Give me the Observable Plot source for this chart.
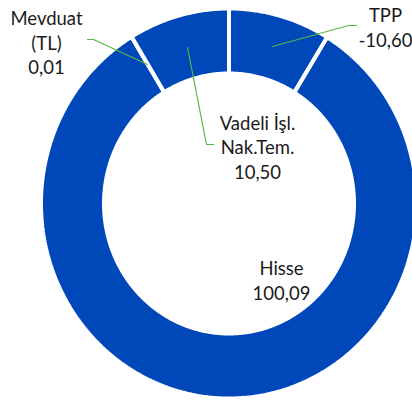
<!DOCTYPE html>
<html>
<head>
<meta charset="utf-8">
<script src="https://cdn.jsdelivr.net/npm/d3@7"></script>
<script src="https://cdn.jsdelivr.net/npm/@observablehq/plot@0.6"></script>
<style>
  html, body { margin: 0; padding: 0; background: #ffffff; }
  #chart svg { display: block; }
</style>
</head>
<body>
<div id="chart"></div>
<script>
// ---- data ----
const categories = ["TPP", "Hisse", "Mevduat (TL)", "Vadeli İşl. Nak.Tem."];
const labelNames = ["TPP", "Hisse", "Mevduat\n(TL)", "Vadeli İşl.\nNak.Tem."];
const values = [-10.60, 100.09, 0.01, 10.50];

// ---- layout (pixels) ----
const W = 412, H = 400;
const cx = 228.5, cy = 203;
const outerRx = 188, outerRy = 195;
const innerRx = 125, innerRy = 130;
const blue = "#0047ba";
const green = "#5bb544";

// label placement (manually positioned as in the source)
const labelLayout = {
  "TPP": {x: 385, y: 26, leader: [[272, 46], [348, 25], [356, 25]]},
  "Hisse": {x: 281, y: 279, leader: null},
  "Mevduat (TL)": {x: 46, y: 41.5, leader: [[87, 39], [93, 39], [147, 64]]},
  "Vadeli İşl. Nak.Tem.": {x: 257, y: 146, leader: [[187, 47], [206, 144], [213, 144]]}
};

const fmt = v => d3.format(".2f")(v).replace("\u2212", "-").replace(".", ",");

const rows = categories.map((c, i) => ({category: c, name: labelNames[i], value: values[i]}));
const arcs = d3.pie().sort(null).value(d => Math.abs(d.value))(rows);

// ring polygons
const poly = [];
for (const a of arcs) {
  const a0 = a.startAngle, a1 = a.endAngle;
  const n = Math.max(1, Math.ceil((a1 - a0) / (Math.PI / 360)));
  const pts = [];
  for (let k = 0; k <= n; k++) {
    const t = a0 + (a1 - a0) * k / n;
    pts.push([cx + outerRx * Math.sin(t), cy - outerRy * Math.cos(t)]);
  }
  for (let k = n; k >= 0; k--) {
    const t = a0 + (a1 - a0) * k / n;
    pts.push([cx + innerRx * Math.sin(t), cy - innerRy * Math.cos(t)]);
  }
  pts.push(pts[0]);
  for (const p of pts) poly.push({category: a.data.category, x: p[0], y: p[1]});
}

const leaders = [];
for (const c of categories) {
  const L = labelLayout[c].leader;
  if (L) for (const p of L) leaders.push({category: c, x: p[0], y: p[1]});
}

const labels = rows.map(r => ({
  text: r.name + "\n" + fmt(r.value),
  x: labelLayout[r.category].x,
  y: labelLayout[r.category].y
}));

const chart = Plot.plot({
  width: W,
  height: H,
  margin: 0,
  x: {domain: [0, W], range: [0, W], axis: null},
  y: {domain: [0, H], range: [0, H], axis: null},
  style: {background: "#ffffff"},
  marks: [
    Plot.line(poly, {x: "x", y: "y", z: "category", fill: blue, stroke: "#ffffff", strokeWidth: 4, strokeLinejoin: "miter", curve: "linear"}),
    Plot.line(leaders, {x: "x", y: "y", z: "category", stroke: green, strokeWidth: 1.2, curve: "linear"}),
    Plot.text(labels, {x: "x", y: "y", text: "text", textAnchor: "middle", lineAnchor: "middle", lineHeight: 1.33, fontSize: 18.5, fontFamily: "Lato", fill: "#1a1a1a"})
  ]
});
document.getElementById("chart").appendChild(chart);
</script>
</body>
</html>
